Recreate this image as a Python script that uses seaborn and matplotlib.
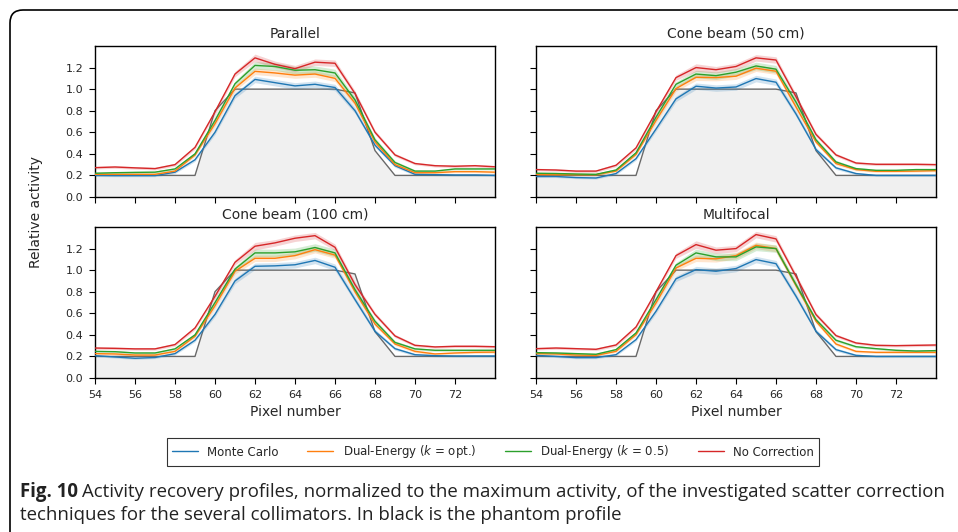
import pandas as pd
import matplotlib
matplotlib.use("Agg")
import matplotlib.pyplot as plt
import seaborn as sns
from matplotlib.lines import Line2D
from matplotlib.patches import FancyBboxPatch
from matplotlib.transforms import IdentityTransform

# pixel positions along the profile
pixels = [54, 55, 56, 57, 58, 59, 60, 61, 62, 63, 64, 65, 66, 67, 68, 69, 70, 71, 72, 73, 74]

# phantom profile (black/gray reference)
phantom = [0.2, 0.2, 0.2, 0.2, 0.2, 0.2, 0.8, 1.0, 1.0, 1.0, 1.0, 1.0, 1.0, 0.965, 0.43,
           0.2, 0.2, 0.2, 0.2, 0.2, 0.2]

methods = ["Monte Carlo", "Dual-Energy ($k$ = opt.)", "Dual-Energy ($k$ = 0.5)", "No Correction"]
colors = ["#1f77b4", "#ff7f0e", "#2ca02c", "#d62728"]

# Parallel
par_mc = [0.20, 0.198, 0.198, 0.198, 0.23, 0.345, 0.60, 0.94, 1.09, 1.06, 1.03, 1.045, 1.015,
          0.80, 0.48, 0.29, 0.21, 0.207, 0.204, 0.204, 0.20]
par_opt = [0.21, 0.21, 0.21, 0.21, 0.24, 0.39, 0.68, 1.01, 1.165, 1.15, 1.13, 1.14, 1.10,
           0.87, 0.51, 0.30, 0.225, 0.225, 0.235, 0.235, 0.23]
par_05 = [0.22, 0.225, 0.228, 0.23, 0.26, 0.40, 0.71, 1.05, 1.22, 1.21, 1.175, 1.18, 1.15,
          0.90, 0.53, 0.32, 0.24, 0.24, 0.26, 0.26, 0.26]
par_nc = [0.272, 0.278, 0.27, 0.263, 0.30, 0.46, 0.79, 1.14, 1.29, 1.23, 1.19, 1.25, 1.24,
          0.96, 0.60, 0.39, 0.31, 0.29, 0.285, 0.29, 0.28]

# Cone beam (50 cm)
c50_mc = [0.19, 0.19, 0.18, 0.176, 0.217, 0.355, 0.63, 0.91, 1.027, 1.01, 1.02, 1.098, 1.064,
          0.77, 0.44, 0.27, 0.217, 0.20, 0.20, 0.20, 0.20]
c50_opt = [0.21, 0.207, 0.207, 0.207, 0.24, 0.395, 0.71, 1.005, 1.11, 1.107, 1.12, 1.194, 1.166,
           0.835, 0.51, 0.31, 0.254, 0.238, 0.238, 0.24, 0.244]
c50_05 = [0.22, 0.218, 0.213, 0.21, 0.25, 0.41, 0.74, 1.045, 1.14, 1.125, 1.157, 1.215, 1.185,
          0.88, 0.53, 0.325, 0.263, 0.247, 0.247, 0.254, 0.254]
c50_nc = [0.254, 0.25, 0.24, 0.24, 0.294, 0.455, 0.79, 1.107, 1.20, 1.18, 1.21, 1.29, 1.27,
          0.93, 0.58, 0.39, 0.315, 0.303, 0.303, 0.303, 0.30]

# Cone beam (100 cm)
c100_mc = [0.207, 0.195, 0.183, 0.19, 0.226, 0.35, 0.59, 0.90, 1.036, 1.04, 1.05, 1.09, 1.027,
           0.727, 0.433, 0.272, 0.216, 0.207, 0.204, 0.204, 0.204]
c100_opt = [0.226, 0.223, 0.213, 0.213, 0.247, 0.387, 0.67, 0.99, 1.11, 1.11, 1.135, 1.19, 1.14,
            0.80, 0.50, 0.315, 0.247, 0.223, 0.232, 0.238, 0.24]
c100_05 = [0.247, 0.244, 0.232, 0.232, 0.27, 0.40, 0.70, 1.01, 1.16, 1.16, 1.17, 1.21, 1.16,
           0.82, 0.526, 0.33, 0.27, 0.257, 0.257, 0.257, 0.257]
c100_nc = [0.278, 0.275, 0.27, 0.27, 0.31, 0.464, 0.758, 1.073, 1.222, 1.253, 1.296, 1.32, 1.212,
           0.866, 0.59, 0.39, 0.303, 0.288, 0.294, 0.294, 0.29]

# Multifocal
mf_mc = [0.21, 0.20, 0.189, 0.189, 0.216, 0.356, 0.619, 0.92, 1.005, 0.99, 1.015, 1.098, 1.06,
         0.758, 0.433, 0.263, 0.21, 0.20, 0.20, 0.20, 0.20]
mf_opt = [0.226, 0.223, 0.213, 0.21, 0.247, 0.402, 0.696, 1.02, 1.11, 1.105, 1.135, 1.23, 1.20,
          0.857, 0.526, 0.315, 0.247, 0.238, 0.238, 0.238, 0.238]
mf_05 = [0.235, 0.232, 0.226, 0.22, 0.263, 0.418, 0.727, 1.046, 1.16, 1.123, 1.123, 1.216, 1.20,
         0.866, 0.541, 0.35, 0.29, 0.272, 0.257, 0.25, 0.254]
mf_nc = [0.272, 0.278, 0.272, 0.266, 0.306, 0.473, 0.80, 1.135, 1.237, 1.185, 1.20, 1.33, 1.29,
         0.943, 0.588, 0.393, 0.325, 0.303, 0.30, 0.303, 0.306]

# half-width of the shaded spread band, per method
band_mc = [0.010, 0.010, 0.010, 0.010, 0.012, 0.015, 0.020, 0.025, 0.030, 0.030, 0.030, 0.030, 0.030,
           0.025, 0.020, 0.015, 0.012, 0.010, 0.010, 0.010, 0.010]
band_opt = [0.010, 0.010, 0.010, 0.010, 0.012, 0.015, 0.020, 0.025, 0.030, 0.030, 0.030, 0.030, 0.030,
            0.025, 0.020, 0.015, 0.012, 0.010, 0.010, 0.010, 0.010]
band_05 = [0.010, 0.010, 0.010, 0.010, 0.012, 0.015, 0.020, 0.025, 0.035, 0.035, 0.035, 0.035, 0.035,
           0.025, 0.020, 0.015, 0.012, 0.010, 0.010, 0.010, 0.010]
band_nc = [0.012, 0.012, 0.012, 0.012, 0.014, 0.016, 0.020, 0.025, 0.035, 0.030, 0.030, 0.030, 0.030,
           0.025, 0.020, 0.015, 0.012, 0.012, 0.012, 0.012, 0.012]

panels = [
    ("Parallel", [par_mc, par_opt, par_05, par_nc]),
    ("Cone beam (50 cm)", [c50_mc, c50_opt, c50_05, c50_nc]),
    ("Cone beam (100 cm)", [c100_mc, c100_opt, c100_05, c100_nc]),
    ("Multifocal", [mf_mc, mf_opt, mf_05, mf_nc]),
]
bands = [band_mc, band_opt, band_05, band_nc]

sns.set_style("ticks")
plt.rcParams["font.family"] = ["DejaVu Sans"]
plt.rcParams["xtick.direction"] = "out"
plt.rcParams["ytick.direction"] = "out"

W, H = 958, 532
fig, axes = plt.subplots(2, 2, figsize=(W / 100, H / 100), dpi=100, sharex=True, sharey=True)
fig.subplots_adjust(left=95 / W, right=936 / W, top=1 - 46 / H, bottom=1 - 378 / H,
                    wspace=0.1025, hspace=0.199)

for ax, (title, series) in zip(axes.flat, panels):
    ax.fill_between(pixels, 0, phantom, color="#f0f0f0", lw=0, zorder=0)
    ax.plot(pixels, phantom, color="dimgray", lw=1, zorder=1)

    for vals, band, col in zip(series, bands, colors):
        lo = [v - b for v, b in zip(vals, band)]
        hi = [v + b for v, b in zip(vals, band)]
        ax.fill_between(pixels, lo, hi, color=col, alpha=0.2, lw=0, zorder=2)

    df = pd.DataFrame({
        "Pixel": pixels * 4,
        "Activity": [v for s in series for v in s],
        "Method": [m for m in methods for _ in pixels],
    })
    sns.lineplot(data=df, x="Pixel", y="Activity", hue="Method", palette=colors,
                 hue_order=methods, lw=1, ax=ax, legend=False, zorder=3)

    ax.set_title(title, fontsize=10, pad=6)
    ax.set_xlim(54, 74)
    ax.set_ylim(0, 1.4)
    ax.set_xticks(range(54, 74, 2))
    ax.set_yticks([0.0, 0.2, 0.4, 0.6, 0.8, 1.0, 1.2])
    ax.tick_params(labelsize=8, length=4, width=0.8, pad=4.5, color="black")
    ax.set_xlabel("")
    ax.set_ylabel("")
    for sp in ax.spines.values():
        sp.set_color("black")
        sp.set_linewidth(1.0)

for ax in axes[1]:
    ax.set_xlabel("Pixel number", fontsize=10)

fig.text(36 / W, 1 - 212 / H, "Relative activity", rotation=90, fontsize=10,
         ha="center", va="center")

handles = [Line2D([], [], color=c, lw=1) for c in colors]
leg = fig.legend(handles, methods, ncol=4, loc="center", bbox_to_anchor=(493 / W, 1 - 452 / H),
                 fontsize=8.5, frameon=True, fancybox=False, edgecolor="black",
                 handlelength=2.2, columnspacing=2.4, borderpad=0.45)
leg.get_frame().set_linewidth(0.8)

# rounded frame around figure and caption
frame = FancyBboxPatch((10, -40), 1000, H - 10 + 40,
                       boxstyle="round,pad=0,rounding_size=13",
                       transform=IdentityTransform(), fill=False, ec="black", lw=1.2)
fig.add_artist(frame)

# caption
cap_font = ["Open Sans", "DejaVu Sans"]
cap_size = 13.4
t1 = fig.text(20 / W, 1 - 497 / H, "Fig. 10", fontsize=cap_size, weight="bold",
              family=cap_font, va="baseline", color="#222222")
fig.canvas.draw()
bb = t1.get_window_extent(fig.canvas.get_renderer())
fig.text((bb.x1 + 4) / W, 1 - 497 / H,
         "Activity recovery profiles, normalized to the maximum activity, of the investigated scatter correction",
         fontsize=cap_size, family=cap_font, va="baseline", color="#222222")
fig.text(20 / W, 1 - 520 / H,
         "techniques for the several collimators. In black is the phantom profile",
         fontsize=cap_size, family=cap_font, va="baseline", color="#222222")

plt.savefig("out.png", dpi=100)
